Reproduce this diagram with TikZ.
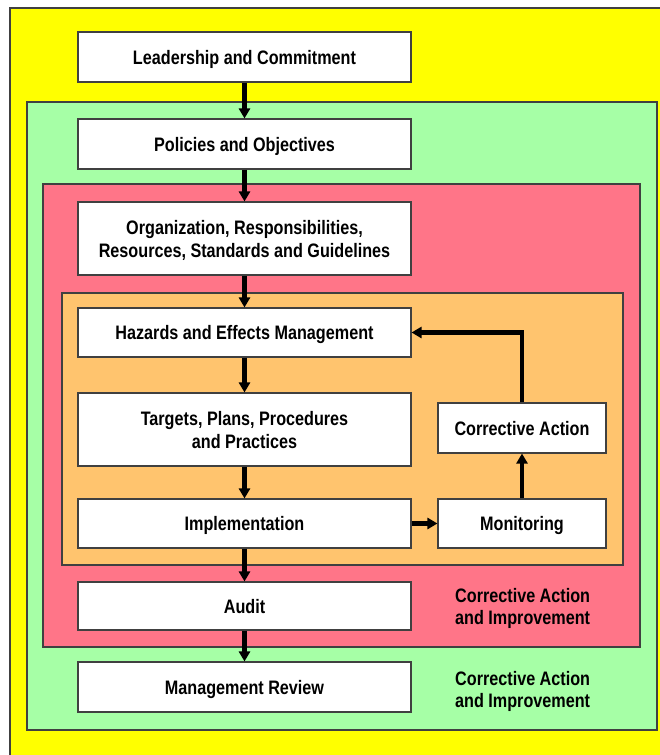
\documentclass[tikz,border=0pt]{standalone}
\usepackage{fontspec}
\newfontfamily\nfont{Liberation Sans}[FakeStretch=0.83]
\usetikzlibrary{arrows.meta}
\definecolor{bgyellow}{RGB}{255,255,0}
\definecolor{bggreen}{RGB}{166,255,166}
\definecolor{bgred}{RGB}{255,117,136}
\definecolor{bgorange}{RGB}{255,196,110}
\definecolor{edge}{RGB}{64,64,64}
\tikzset{
  panel/.style={draw=edge, line width=1.3pt},
  box/.style={draw=edge, line width=1.1pt, fill=white, rectangle, minimum width=333pt, inner sep=0pt, align=center, text depth=-1.5pt, font=\nfont\bfseries\fontsize{19.5}{23}\selectfont},
  sbox/.style={box, minimum width=168pt},
  lbl/.style={anchor=west, align=left, inner sep=0pt, font=\nfont\bfseries\fontsize{19.5}{22.5}\selectfont},
  arr/.style={line width=4.5pt, -{Triangle[length=10pt,width=11pt]}, shorten >=0pt}
}
\begin{document}
\begin{tikzpicture}[x=1pt,y=-1pt]
\useasboundingbox (0,0) rectangle (660,755);
\begin{scope}
\clip (0,0) rectangle (660,755);
\fill[bgyellow] (10,8) rectangle (680,775);
\draw[panel] (10,775) -- (10,8) -- (680,8);
\end{scope}
\filldraw[panel, fill=bggreen] (27,102) rectangle (657,730);
\filldraw[panel, fill=bgred] (43,184) rectangle (640,647);
\filldraw[panel, fill=bgorange] (62,293) rectangle (623,565);

\node[box, minimum height=50pt] (lead) at (244.5,57) {Leadership and Commitment};
\node[box, minimum height=50pt] (pol) at (244.5,144) {Policies and Objectives};
\node[box, minimum height=73pt] (org) at (244.5,238.5) {Organization, Responsibilities,\\Resources, Standards and Guidelines};
\node[box, minimum height=49pt] (haz) at (244.5,332.5) {Hazards and Effects Management};
\node[box, minimum height=73pt] (tgt) at (244.5,429.5) {Targets, Plans, Procedures\\and Practices};
\node[box, minimum height=49pt] (impl) at (244.5,523.5) {Implementation};
\node[box, minimum height=48pt] (audit) at (244.5,606) {Audit};
\node[box, minimum height=50pt] (mgmt) at (244.5,687) {Management Review};
\node[sbox, minimum height=50pt] (ca) at (522,428) {Corrective Action};
\node[sbox, minimum height=49pt] (mon) at (522,523.5) {Monitoring};

\node[lbl] (lblred) at (455,608.5) {Corrective Action\\and Improvement};
\node[lbl] (lblgreen) at (455,691.5) {Corrective Action\\and Improvement};

\draw[arr] (lead) -- (pol);
\draw[arr] (pol) -- (org);
\draw[arr] (org) -- (haz);
\draw[arr] (haz) -- (tgt);
\draw[arr] (tgt) -- (impl);
\draw[arr] (impl) -- (audit);
\draw[arr] (audit) -- (mgmt);
\draw[arr] (impl) -- (mon);
\draw[arr] (mon) -- (ca);
\draw[arr] (ca.north) |- (haz.east);
\end{tikzpicture}
\end{document}
